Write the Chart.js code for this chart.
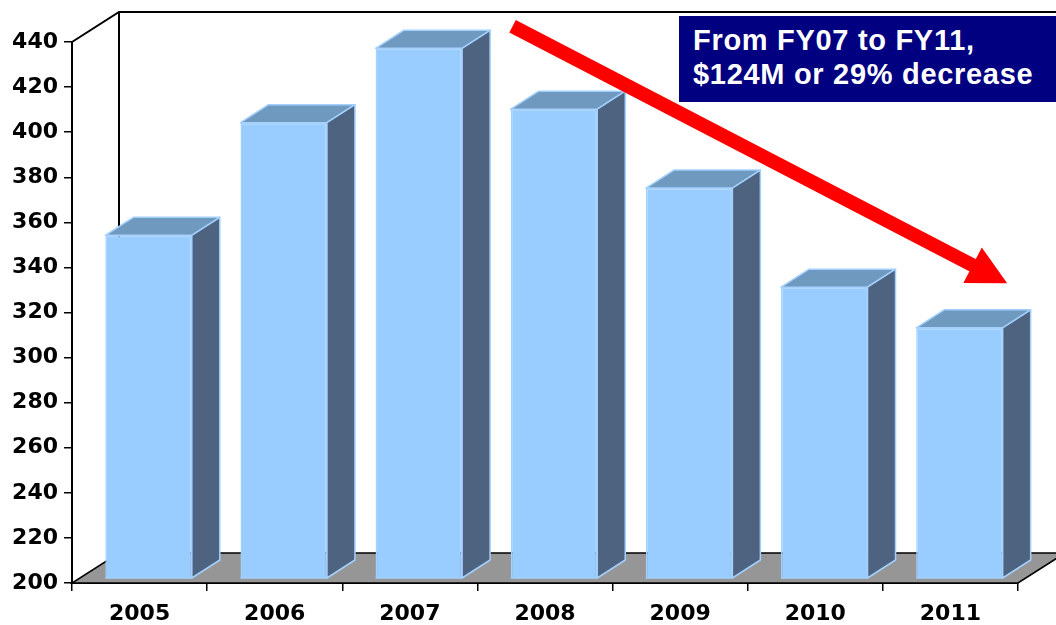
<!DOCTYPE html>
<html>
<head>
<meta charset="utf-8">
<title>FY05 - FY11</title>
<script src="https://cdn.jsdelivr.net/npm/chart.js@4.4.1/dist/chart.umd.min.js"></script>
<style>
  html, body { margin: 0; padding: 0; background: #fff; }
  #wrap { position: relative; width: 1056px; height: 625px; overflow: hidden; }
  #note {
    position: absolute; left: 679px; top: 16px; width: 377px; height: 86px;
    box-sizing: border-box; padding: 7px 0 0 14px;
    background: #000080; color: #fff;
    font: bold 29px 'Liberation Sans', Arial, sans-serif;
    line-height: 34px; letter-spacing: 0.7px; white-space: nowrap;
  }
</style>
</head>
<body>
<div id="wrap">
  <canvas id="myChart" width="1056" height="625"></canvas>
  <div id="note">From FY07 to FY11,<br>$124M or 29% decrease</div>
</div>
<script>
// data
const years = ['2005', '2006', '2007', '2008', '2009', '2010', '2011']
const values = [352, 402, 435, 408, 373, 329, 311]
const yMin = 200
const yMax = 440
const yStep = 20

// fake 3d look
const WALL = { dx: 47, dy: -30 }
const BAR_DEPTH = { dx: 28, dy: -18 }
const BAR_SHIFT = { dx: 9, dy: -5 }

const box3d = {
    id: 'box3d',
    beforeDatasetsDraw(chart) {
        const { ctx, chartArea: a } = chart
        ctx.save()
        // floor
        ctx.beginPath()
        ctx.moveTo(a.left, a.bottom)
        ctx.lineTo(a.right, a.bottom)
        ctx.lineTo(a.right + WALL.dx, a.bottom + WALL.dy)
        ctx.lineTo(a.left + WALL.dx, a.bottom + WALL.dy)
        ctx.closePath()
        ctx.fillStyle = '#969696'
        ctx.fill()
        ctx.strokeStyle = '#000'
        ctx.lineWidth = 1.5
        ctx.stroke()
        // back wall edges
        ctx.beginPath()
        ctx.moveTo(a.left, a.top)
        ctx.lineTo(a.left + WALL.dx, a.top + WALL.dy)
        ctx.lineTo(chart.width + 10, a.top + WALL.dy)
        ctx.moveTo(a.left + WALL.dx, a.top + WALL.dy)
        ctx.lineTo(a.left + WALL.dx, a.bottom + WALL.dy)
        ctx.lineWidth = 2
        ctx.stroke()
        ctx.restore()

        // bars sit a bit back from the front plane
        ctx.save()
        ctx.translate(BAR_SHIFT.dx, BAR_SHIFT.dy)
    },
    afterDatasetsDraw(chart) {
        const ctx = chart.ctx
        const floor = chart.scales.y.getPixelForValue(yMin)
        chart.getDatasetMeta(0).data.forEach(bar => {
            const { x, y, width } = bar.getProps(['x', 'y', 'width'], true)
            const l = x - width / 2
            const r = x + width / 2
            const b = Math.min(bar.base, floor)
            ctx.lineWidth = 1.5
            ctx.strokeStyle = '#A3D0FF'
            ctx.lineJoin = 'round'

            // top
            ctx.beginPath()
            ctx.moveTo(l, y)
            ctx.lineTo(l + BAR_DEPTH.dx, y + BAR_DEPTH.dy)
            ctx.lineTo(r + BAR_DEPTH.dx, y + BAR_DEPTH.dy)
            ctx.lineTo(r, y)
            ctx.closePath()
            ctx.fillStyle = '#7099BF'
            ctx.fill()
            ctx.stroke()

            // side
            ctx.beginPath()
            ctx.moveTo(r, y)
            ctx.lineTo(r + BAR_DEPTH.dx, y + BAR_DEPTH.dy)
            ctx.lineTo(r + BAR_DEPTH.dx, b + BAR_DEPTH.dy)
            ctx.lineTo(r, b)
            ctx.closePath()
            ctx.fillStyle = '#4E637F'
            ctx.fill()
            ctx.stroke()

            // bottom edge of the front face
            ctx.beginPath()
            ctx.moveTo(l, b)
            ctx.lineTo(r, b)
            ctx.stroke()
        })
        ctx.restore()
    },
    afterDraw(chart) {
        // red arrow FY07 -> FY11
        const { ctx, scales } = chart
        const x0 = scales.x.getPixelForValue(2.76)
        const y0 = scales.y.getPixelForValue(447)
        const x1 = scales.x.getPixelForValue(6.42)
        const y1 = scales.y.getPixelForValue(333)
        const len = Math.hypot(x1 - x0, y1 - y0)
        const ux = (x1 - x0) / len
        const uy = (y1 - y0) / len
        const headL = 39
        const headW = 20
        const bx = x1 - ux * headL
        const by = y1 - uy * headL

        ctx.save()
        ctx.strokeStyle = '#FF0000'
        ctx.fillStyle = '#FF0000'
        ctx.lineWidth = 14
        ctx.beginPath()
        ctx.moveTo(x0, y0)
        ctx.lineTo(bx + ux * 2, by + uy * 2)
        ctx.stroke()
        ctx.beginPath()
        ctx.moveTo(x1, y1)
        ctx.lineTo(bx - uy * headW, by + ux * headW)
        ctx.lineTo(bx + uy * headW, by - ux * headW)
        ctx.closePath()
        ctx.fill()
        ctx.restore()
    }
}

const tickFont = { family: "'DejaVu Sans', 'Liberation Sans', Arial", weight: 'bold', size: 22 }

const ctx = document.getElementById('myChart').getContext('2d')
new Chart(ctx, {
    type: 'bar',
    data: {
        labels: years,
        datasets: [{
            data: values,
            backgroundColor: '#99CCFF',
            borderColor: '#A3D0FF',
            borderWidth: 1.5,
            barPercentage: 0.64,
            categoryPercentage: 1
        }]
    },
    options: {
        responsive: false,
        animation: false,
        layout: { padding: { top: 42, right: 38, left: 0, bottom: 0 } },
        plugins: {
            legend: { display: false },
            tooltip: { enabled: false }
        },
        scales: {
            x: {
                grid: { offset: true, drawOnChartArea: false, tickLength: 8, color: '#000', lineWidth: 1.5 },
                border: { color: '#000', width: 2 },
                ticks: { color: '#000', font: tickFont, padding: 10, maxRotation: 0 },
                afterFit(scale) { scale.height = 42 }
            },
            y: {
                min: yMin,
                max: yMax,
                grid: { drawOnChartArea: false, tickLength: 8, color: '#000', lineWidth: 1.5 },
                border: { color: '#000', width: 2 },
                ticks: { stepSize: yStep, color: '#000', font: tickFont, padding: 6 },
                afterFit(scale) { scale.width = 72 }
            }
        }
    },
    plugins: [box3d]
})
</script>
</body>
</html>
